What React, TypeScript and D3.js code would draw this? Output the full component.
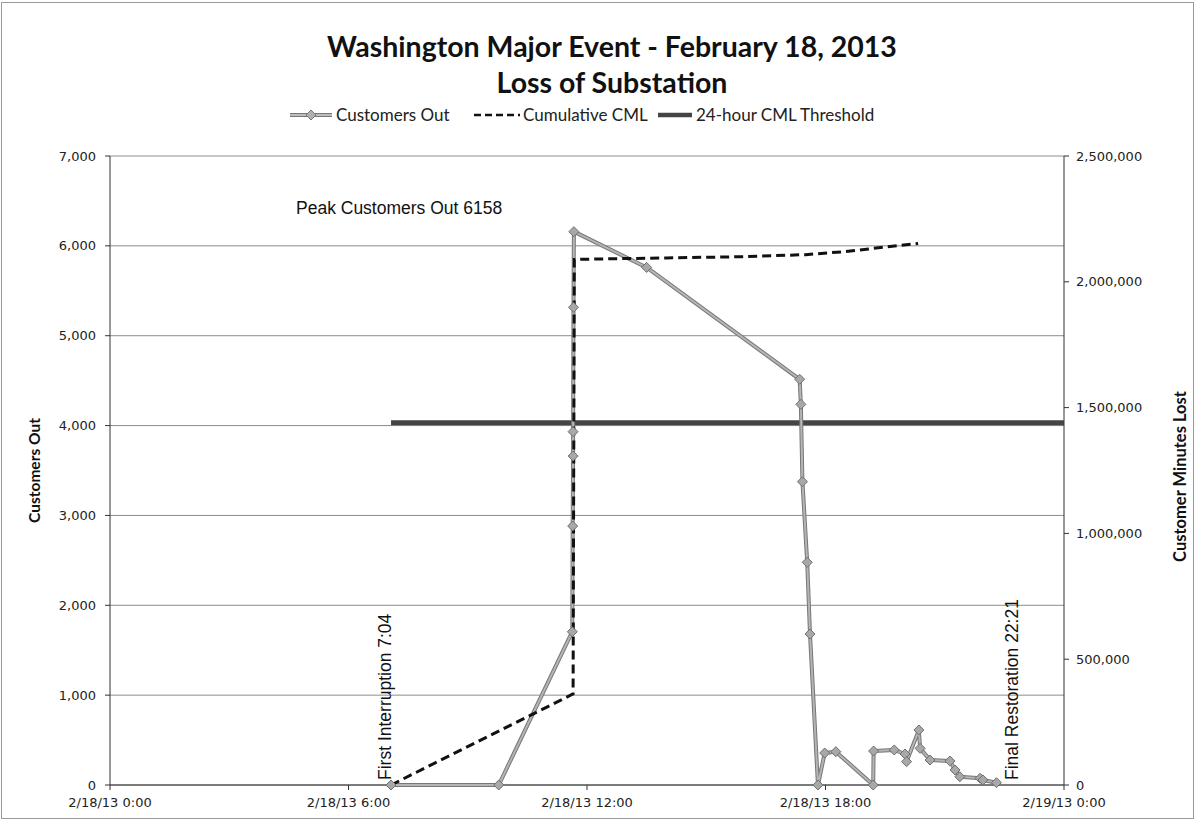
import * as d3 from "d3";
import React, { useEffect } from "react";

const W = 1195;
const H = 820;
const margin = { top: 156, right: 131, bottom: 35, left: 110 };

// x values are hours since 2/18/13 0:00
const xTickHours = [0, 6, 12, 18, 24];
const xTickLabels = ["2/18/13 0:00", "2/18/13 6:00", "2/18/13 12:00", "2/18/13 18:00", "2/19/13 0:00"];
const leftTicks = [0, 1000, 2000, 3000, 4000, 5000, 6000, 7000];
const rightTicks = [0, 500000, 1000000, 1500000, 2000000, 2500000];

// Customers Out
const outHours = [7.07, 9.78, 11.63, 11.64, 11.65, 11.65, 11.66, 11.67, 13.5, 17.35, 17.38, 17.42, 17.54, 17.61, 17.81, 17.98, 18.26, 19.2, 19.21, 19.73, 20.0, 20.04, 20.35, 20.38, 20.63, 21.13, 21.26, 21.38, 21.89, 21.96, 22.3];
const outValues = [0, 0, 1706, 2882, 3661, 3932, 5316, 6158, 5760, 4515, 4236, 3375, 2478, 1680, 0, 356, 371, 0, 378, 390, 345, 260, 612, 408, 278, 267, 167, 92, 75, 56, 26];

// Cumulative CML
const cmlHours = [7.07, 11.65, 11.68, 14.0, 16.0, 17.5, 18.5, 19.5, 20.33];
const cmlValues = [0, 362000, 2089000, 2095000, 2100000, 2108000, 2120000, 2138000, 2152000];

// 24-hour CML threshold
const thrHours = [7.07, 24];
const thrValues = [1440000, 1440000];

export default function App() {
  useEffect(() => {
    document.body.style.margin = "0";
  }, []);

  const x = d3.scaleLinear().domain([0, 24]).range([margin.left, W - margin.right]);
  const yL = d3.scaleLinear().domain([0, 7000]).range([H - margin.bottom, margin.top]);
  const yR = d3.scaleLinear().domain([0, 2500000]).range([H - margin.bottom, margin.top]);
  const x0 = margin.left;
  const x1 = W - margin.right;
  const yb = H - margin.bottom;

  const outLine = d3.line<number>().x((d, i) => x(outHours[i])).y((d) => yL(d));
  const cmlLine = d3.line<number>().x((d, i) => x(cmlHours[i])).y((d) => yR(d));
  const thrLine = d3.line<number>().x((d, i) => x(thrHours[i])).y((d) => yR(d));
  const fmt = d3.format(",");

  const diamond = (cx: number, cy: number, r = 5) =>
    `M${cx},${cy - r}L${cx + r},${cy}L${cx},${cy + r}L${cx - r},${cy}Z`;

  const tickFont = "'DejaVu Sans', Verdana, sans-serif";
  const calFont = "Lato, 'Open Sans', sans-serif";
  const arial = "'Liberation Sans', Arial, sans-serif";

  return (
    <svg width={W} height={H} style={{ display: "block", background: "#fff" }}>
      <rect x={1.5} y={2.5} width={W - 3} height={H - 4} fill="none" stroke="#9a9a9a" strokeWidth={1} />

      {/* title */}
      <text x={612} y={57} textAnchor="middle" fontFamily={calFont} fontWeight="bold" fontSize={28.5} fill="#111">
        Washington Major Event - February 18, 2013
      </text>
      <text x={612} y={93} textAnchor="middle" fontFamily={calFont} fontWeight="bold" fontSize={28.5} fill="#111">
        Loss of Substation
      </text>

      {/* legend */}
      <g fontFamily={calFont} fontSize={17} fill="#222">
        <line x1={290} x2={332} y1={115} y2={115} stroke="#777" strokeWidth={4} />
        <line x1={290} x2={332} y1={115} y2={115} stroke="#bdbdbd" strokeWidth={2} />
        <path d={diamond(311, 115, 5)} fill="#b0b0b0" stroke="#777" strokeWidth={1} />
        <text x={336} y={121}>Customers Out</text>
        <line x1={474} x2={520} y1={115} y2={115} stroke="#111" strokeWidth={2.5} strokeDasharray="7,4" />
        <text x={523} y={121}>Cumulative CML</text>
        <line x1={658} x2={692} y1={115} y2={115} stroke="#444" strokeWidth={4.5} />
        <text x={696} y={121}>24-hour CML Threshold</text>
      </g>

      {/* gridlines */}
      <g>
        {leftTicks.map((t) => (
          <line key={t} x1={x0} x2={x1} y1={yL(t)} y2={yL(t)} stroke="#8c8c8c" strokeWidth={1} />
        ))}
      </g>

      {/* axes */}
      <g stroke="#333" strokeWidth={1}>
        <line x1={x0} x2={x0} y1={margin.top} y2={yb} />
        <line x1={x1} x2={x1} y1={margin.top} y2={yb} />
        <line x1={x0} x2={x1} y1={yb} y2={yb} />
        {leftTicks.map((t) => (
          <line key={"l" + t} x1={x0 - 5} x2={x0} y1={yL(t)} y2={yL(t)} />
        ))}
        {rightTicks.map((t) => (
          <line key={"r" + t} x1={x1} x2={x1 + 5} y1={yR(t)} y2={yR(t)} />
        ))}
        {xTickHours.map((t) => (
          <line key={"x" + t} x1={x(t)} x2={x(t)} y1={yb} y2={yb + 5} />
        ))}
      </g>

      <g fontFamily={tickFont} fontSize={13} fill="#222">
        {leftTicks.map((t) => (
          <text key={t} x={x0 - 14} y={yL(t) + 4.5} textAnchor="end">
            {fmt(t)}
          </text>
        ))}
        {rightTicks.map((t) => (
          <text key={t} x={x1 + 12} y={yR(t) + 4.5} textAnchor="start">
            {fmt(t)}
          </text>
        ))}
        {xTickHours.map((t, i) => (
          <text key={t} x={x(t)} y={yb + 22} textAnchor="middle">
            {xTickLabels[i]}
          </text>
        ))}
      </g>

      {/* axis titles */}
      <text
        transform={`translate(40,${(margin.top + yb) / 2}) rotate(-90)`}
        textAnchor="middle"
        fontFamily={calFont}
        fontWeight="bold"
        fontSize={15.5}
        fill="#111"
      >
        Customers Out
      </text>
      <text
        transform={`translate(1186,${(margin.top + yb) / 2 + 6}) rotate(-90)`}
        textAnchor="middle"
        fontFamily={calFont}
        fontWeight="bold"
        fontSize={16.5}
        fill="#111"
      >
        Customer Minutes Lost
      </text>

      {/* threshold */}
      <path d={thrLine(thrValues) || ""} fill="none" stroke="#444" strokeWidth={5} />

      {/* customers out */}
      <path d={outLine(outValues) || ""} fill="none" stroke="#777" strokeWidth={4} strokeLinejoin="round" />
      <path d={outLine(outValues) || ""} fill="none" stroke="#b5b5b5" strokeWidth={2} strokeLinejoin="round" />

      {/* cumulative CML */}
      <path d={cmlLine(cmlValues) || ""} fill="none" stroke="#111" strokeWidth={3} strokeDasharray="9,5" />

      {/* markers */}
      <g>
        {outValues.map((v, i) => (
          <path key={i} d={diamond(x(outHours[i]), yL(v), 5)} fill="#a8a8a8" stroke="#6f6f6f" strokeWidth={1} />
        ))}
      </g>

      {/* annotations */}
      <g fontFamily={arial} fontSize={17.5} fill="#111">
        <text x={296} y={214}>Peak Customers Out 6158</text>
        <text transform={`translate(391,780) rotate(-90)`}>First Interruption 7:04</text>
        <text transform={`translate(1018,780) rotate(-90)`}>Final Restoration 22:21</text>
      </g>
    </svg>
  );
}
